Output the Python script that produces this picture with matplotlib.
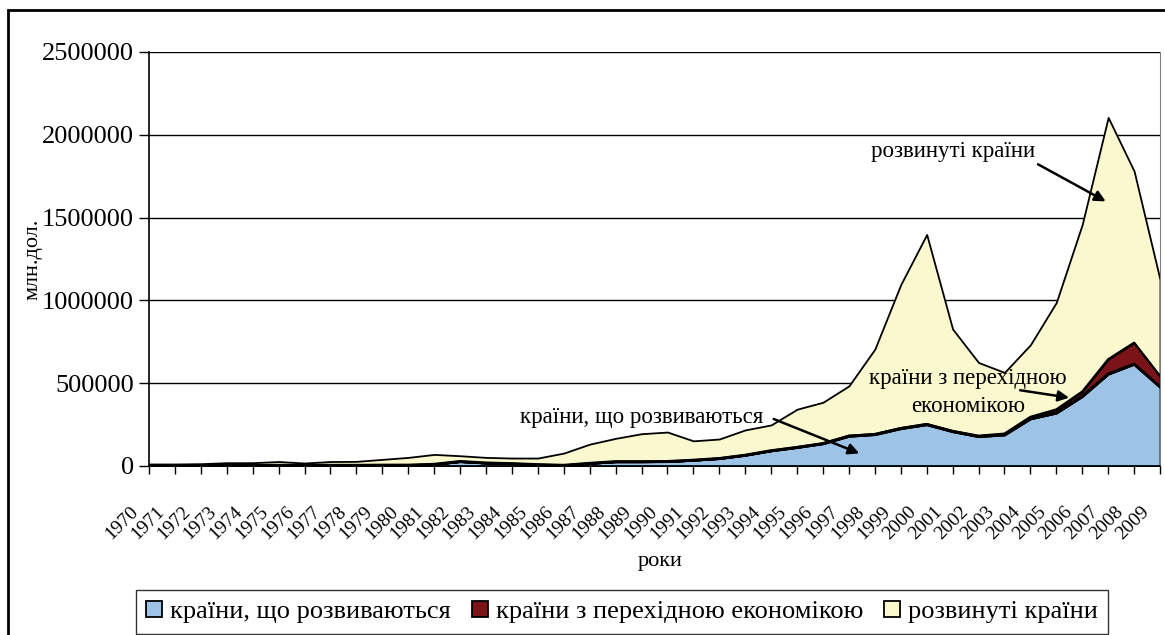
import numpy as np
import matplotlib.pyplot as plt
from matplotlib.patches import Rectangle
from matplotlib.transforms import ScaledTranslation

plt.rcParams['font.family'] = ['Liberation Serif', 'DejaVu Serif']

years = list(range(1970, 2010))

# країни, що розвиваються
developing = [3000, 3000, 3000, 3000, 3000, 4000, 4000, 4000, 4000, 5000,
              5000, 10000, 27000, 18000, 14000, 8000, 4000, 16000, 26000, 26000,
              27000, 35000, 45000, 65000, 92000, 112000, 135000, 180000, 190000, 226000,
              250000, 208000, 178000, 188000, 285000, 320000, 420000, 555000, 615000, 478000]

# країни з перехідною економікою
transition = [0, 0, 0, 0, 0, 0, 0, 0, 0, 0,
              0, 0, 0, 0, 0, 0, 0, 0, 0, 0,
              0, 0, 1000, 1000, 1000, 2000, 2000, 3000, 3000, 3000,
              4000, 4000, 5000, 8000, 12000, 22000, 30000, 90000, 130000, 65000]

# сума (верхня межа)
total = [12000, 12000, 14000, 20000, 20000, 27000, 18000, 27000, 28000, 40000,
         52000, 70000, 62000, 52000, 48000, 48000, 78000, 132000, 167000, 195000,
         205000, 152000, 163000, 218000, 248000, 343000, 385000, 484000, 706000, 1096000,
         1398000, 827000, 625000, 565000, 732000, 988000, 1459000, 2105000, 1781000, 1126000]

developed = [t - d - tr for t, d, tr in zip(total, developing, transition)]

labels = ['країни, що розвиваються', 'країни з перехідною економікою', 'розвинуті країни']
colors = ['#9DC3E6', '#7B1418', '#FAF8CE']

fig = plt.figure(figsize=(11.65, 6.35), dpi=100)
ax = fig.add_axes([149/1165, 1-466/635, (1160-149)/1165, (466-52)/635])

x = np.arange(len(years))
ax.stackplot(x, developing, transition, developed, colors=colors, labels=labels,
             edgecolor='black', linewidth=1.3)
ax.plot(x, developing, color='black', lw=2.2)
ax.plot(x, np.array(developing) + np.array(transition), color='black', lw=1.5)

ax.set_xlim(0, len(years) - 1)
ax.set_ylim(0, 2500000)
ax.set_yticks(range(0, 2500001, 500000))
ax.set_yticklabels([str(v) for v in range(0, 2500001, 500000)], fontsize=19)
ax.yaxis.grid(True, color='black', lw=1)
ax.set_axisbelow(True)
ax.set_xticks(x)
ax.set_xticklabels([])
ax.tick_params(axis='x', length=6, width=1, direction='out')
ax.tick_params(axis='y', length=7, width=1, direction='out', pad=4)
ax.spines['top'].set_visible(False)
ax.spines['right'].set_color('#808080')
ax.spines['left'].set_linewidth(1.2)
ax.spines['bottom'].set_linewidth(1.2)

# підписи років, зсунуті вліво-вниз від поділок
lab_tr = ax.get_xaxis_transform() + ScaledTranslation(-0.19, -0.37, fig.dpi_scale_trans)
for xi, yr in zip(x, years):
    ax.text(xi, 0, str(yr), transform=lab_tr, rotation=45, ha='right', va='top',
            rotation_mode='anchor', fontsize=14, clip_on=False)

ax.set_ylabel('млн.дол.', fontsize=16)
ax.yaxis.set_label_coords((43-149)/1011, 0.5)
ax.set_xlabel('роки', fontsize=16)
ax.xaxis.set_label_coords((660-149)/1011, -0.208)

arr = dict(arrowstyle='-|>', color='black', lw=1.8, mutation_scale=16)
ax.annotate('', xy=(37.0, 1590000), xytext=(34.2, 1830000), arrowprops=arr)
ax.text(31.0, 1900000, 'розвинуті країни', fontsize=16.5, ha='center', va='center')
ax.annotate('', xy=(35.6, 410000), xytext=(33.5, 460000), arrowprops=arr)
ax.text(31.6, 530000, 'країни з перехідною', fontsize=16.5, ha='center', va='center')
ax.text(31.6, 360000, 'економікою', fontsize=16.5, ha='center', va='center')
ax.annotate('', xy=(27.5, 70000), xytext=(24.0, 290000), arrowprops=arr)
ax.text(19.0, 290000, 'країни, що розвиваються', fontsize=16.5, ha='center', va='center')

fig.legend(loc='upper center', bbox_to_anchor=(622/1165, 1-590/635), ncol=3,
           fontsize=19, frameon=True, fancybox=False, edgecolor='black',
           handlelength=0.6, handleheight=0.6, handletextpad=0.3, columnspacing=0.8,
           borderpad=0.4, borderaxespad=0)

fig.patches.append(Rectangle((8/1165, -0.05), 1.1, 1-10/635+0.05,
                             transform=fig.transFigure, fill=False,
                             edgecolor='black', lw=2))

fig.savefig('out.png', dpi=100)
